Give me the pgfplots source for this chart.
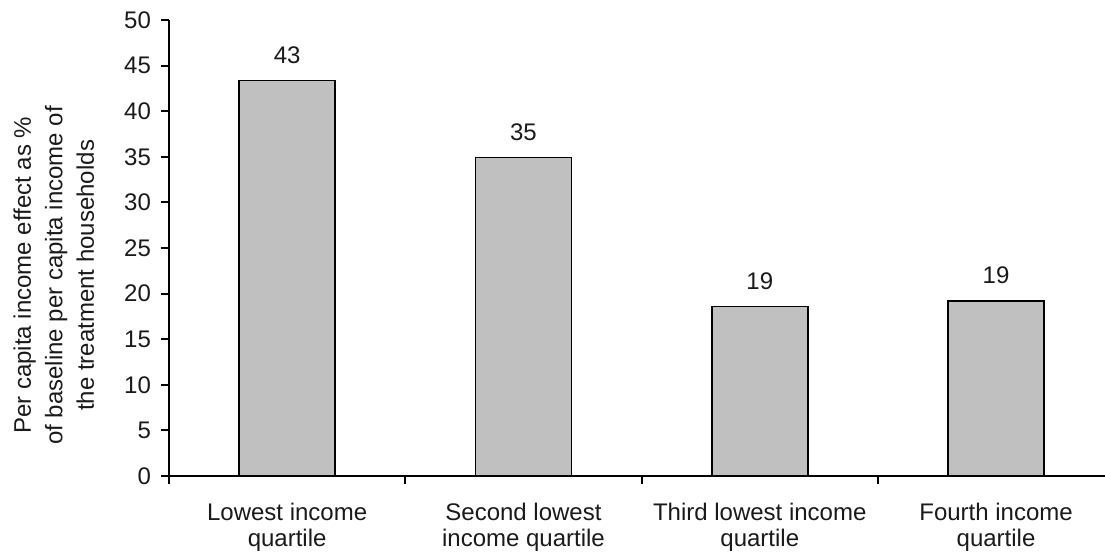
\documentclass[border=0pt]{standalone}
\usepackage{fontspec}
\setmainfont{Liberation Sans}
\usepackage{pgfplots}
\pgfplotsset{compat=1.18}
\definecolor{barfill}{HTML}{C0C0C0}
\definecolor{txt}{HTML}{1A1A1A}
\begin{document}
\begin{tikzpicture}
\useasboundingbox (-84.5pt,-40.5pt) rectangle (468pt,238pt);
\begin{axis}[
 at={(0,0)}, anchor=south west,
 scale only axis, width=468pt, height=228pt,
 xmin=-0.5, xmax=3.461, ymin=0, ymax=50,
 axis x line=bottom, axis y line=left,
 axis line style={-, line width=1pt},
 ytick={0,5,...,50},
 xtick={-0.5,0.5,1.5,2.5},
 xticklabels={{Lowest income\\quartile},{Second lowest\\income quartile},{Third lowest income\\quartile},{Fourth income\\quartile}},
 tick align=outside, major tick length=4pt,
 tick style={line width=1pt, black},
 font=\fontsize{12}{13}\selectfont,
 every tick label/.append style={text=txt},
 xticklabel style={align=center, xshift=59.08pt, yshift=-6pt, font=\fontsize{12}{13}\selectfont},
 yticklabel style={xshift=-1.5pt},
 /pgf/number format/assume math mode=true,
 ylabel={Per capita income effect as \%\\of baseline per capita income of\\the treatment households},
 ylabel style={at={(axis description cs:-0.1667,0.44)}, anchor=north, inner sep=0pt, align=center, text=txt, font=\fontsize{12}{15.75}\selectfont},
 nodes near coords,
 nodes near coords style={anchor=base, yshift=8.5pt, text=txt, /pgf/number format/fixed, /pgf/number format/precision=0},
 ybar, bar width=48pt,
 clip=false,
]
\addplot[fill=barfill, draw=black, line width=0.75pt] coordinates {(0,43.35) (1,34.9) (2,18.6) (3,19.2)};
\end{axis}
\end{tikzpicture}
\end{document}
